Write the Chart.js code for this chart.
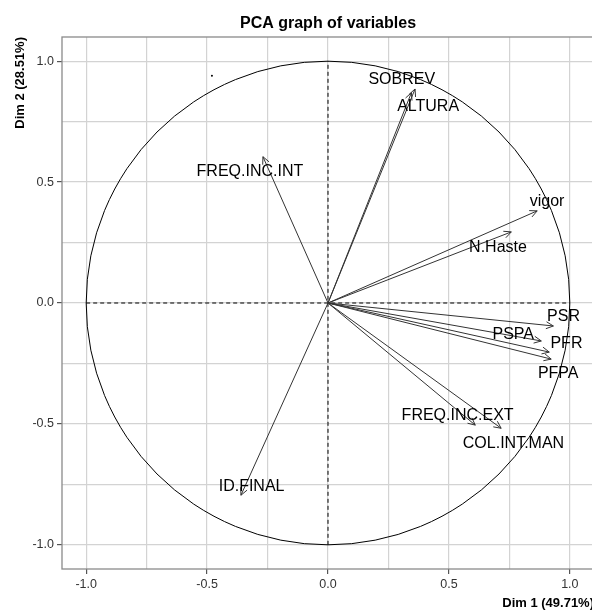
<!DOCTYPE html>
<html>
<head>
<meta charset="utf-8">
<script src="https://cdn.jsdelivr.net/npm/chart.js@4.4.1/dist/chart.umd.min.js"></script>
<style>
  html, body { margin: 0; padding: 0; overflow: hidden; background: #fff; }
  canvas { display: block; }
</style>
</head>
<body>
<canvas id="pca-vars" width="600" height="610"></canvas>
<script>
// variable coordinates on Dim 1 / Dim 2
const variables = ["SOBREV", "ALTURA", "FREQ.INC.INT", "vigor", "N.Haste", "PSR",
  "PSPA", "PFR", "PFPA", "FREQ.INC.EXT", "COL.INT.MAN", "ID.FINAL"];
const dim1 = [0.360, 0.345, -0.269, 0.865, 0.758, 0.932, 0.882, 0.915, 0.923, 0.609, 0.716, -0.360];
const dim2 = [0.885, 0.870, 0.605, 0.381, 0.294, -0.095, -0.157, -0.203, -0.232, -0.505, -0.518, -0.795];
// where the (repelled) labels sit
const labelDim1 = [0.305, 0.414, -0.323, 0.906, 0.703, 0.974, 0.766, 0.986, 0.952, 0.536, 0.767, -0.316];
const labelDim2 = [0.930, 0.816, 0.548, 0.424, 0.234, -0.051, -0.126, -0.161, -0.286, -0.462, -0.576, -0.752];
const strayPoint = [{ x: -0.48, y: 0.94 }];

const majorTicks = [-1, -0.5, 0, 0.5, 1];
const majorTickLabels = ["-1.0", "-0.5", "0.0", "0.5", "1.0"];
const minorTicks = [-0.75, -0.25, 0.25, 0.75];

const allTicks = majorTicks.concat(minorTicks).sort((a, b) => a - b);
const isMajor = v => majorTicks.some(m => Math.abs(m - v) < 1e-9);
const tickText = v => {
  const i = majorTicks.findIndex(m => Math.abs(m - v) < 1e-9);
  return i >= 0 ? majorTickLabels[i] : "";
};

const datasets = variables.map((name, i) => ({
  label: name,
  data: [{ x: 0, y: 0 }, { x: dim1[i], y: dim2[i] }],
  borderColor: "#333",
  borderWidth: 1,
  pointRadius: 0,
  fill: false
}));
datasets.push({
  type: "scatter",
  label: "dot",
  data: strayPoint,
  pointRadius: 1,
  backgroundColor: "#000",
  borderWidth: 0
});

const axisCommon = {
  type: "linear",
  min: -1.1,
  max: 1.1,
  afterBuildTicks: s => { s.ticks = allTicks.map(v => ({ value: v })); },
  border: { display: false },
  grid: {
    color: "#d3d3d3",
    lineWidth: 1.2,
    drawTicks: true,
    tickLength: 5,
    tickColor: c => (c.tick && isMajor(c.tick.value)) ? "#555" : "rgba(0,0,0,0)"
  },
  ticks: {
    autoSkip: false,
    maxRotation: 0,
    padding: 3,
    color: "#333",
    font: { family: "'Liberation Sans', Arial, sans-serif", size: 12.5 },
    callback: v => tickText(v)
  }
};

const decor = {
  id: "decor",
  beforeDatasetsDraw(chart) {
    const { ctx, scales: { x, y } } = chart;
    const cx = x.getPixelForValue(0), cy = y.getPixelForValue(0);
    const rx = x.getPixelForValue(1) - cx, ry = cy - y.getPixelForValue(1);
    ctx.save();
    ctx.strokeStyle = "#000";
    ctx.lineWidth = 1;
    ctx.beginPath();
    ctx.ellipse(cx, cy, rx, ry, 0, 0, Math.PI * 2);
    ctx.stroke();
    ctx.setLineDash([4, 3]);
    ctx.beginPath();
    ctx.moveTo(x.getPixelForValue(-1), cy);
    ctx.lineTo(x.getPixelForValue(1), cy);
    ctx.moveTo(cx, y.getPixelForValue(-1));
    ctx.lineTo(cx, y.getPixelForValue(1));
    ctx.stroke();
    ctx.restore();
  },
  afterDatasetsDraw(chart) {
    const { ctx, scales: { x, y } } = chart;
    ctx.save();
    // arrow heads
    ctx.strokeStyle = "#333";
    ctx.lineWidth = 1;
    variables.forEach((name, i) => {
      const pts = chart.getDatasetMeta(i).data;
      const x0 = pts[0].x, y0 = pts[0].y, x1 = pts[1].x, y1 = pts[1].y;
      const a = Math.atan2(y1 - y0, x1 - x0);
      const len = 8, spread = Math.PI / 7;
      ctx.beginPath();
      ctx.moveTo(x1 - len * Math.cos(a - spread), y1 - len * Math.sin(a - spread));
      ctx.lineTo(x1, y1);
      ctx.lineTo(x1 - len * Math.cos(a + spread), y1 - len * Math.sin(a + spread));
      ctx.stroke();
    });
    // labels, centred on the cap height
    ctx.fillStyle = "#000";
    ctx.font = "16px 'Liberation Sans', Arial, sans-serif";
    ctx.textAlign = "center";
    ctx.textBaseline = "alphabetic";
    variables.forEach((name, i) => {
      ctx.fillText(name, x.getPixelForValue(labelDim1[i]), y.getPixelForValue(labelDim2[i]) + 5.7);
    });
    ctx.restore();
  },
  afterDraw(chart) {
    const { ctx, chartArea: a } = chart;
    ctx.save();
    ctx.strokeStyle = "#8a8a8a";
    ctx.lineWidth = 1.3;
    ctx.strokeRect(a.left, a.top, a.right - a.left, a.bottom - a.top);
    ctx.fillStyle = "#000";
    ctx.font = "bold 16px 'Liberation Sans', Arial, sans-serif";
    ctx.textAlign = "center";
    ctx.textBaseline = "alphabetic";
    ctx.fillText("PCA graph of variables", (a.left + a.right) / 2, 28);
    ctx.font = "bold 13px 'Liberation Sans', Arial, sans-serif";
    ctx.textAlign = "right";
    ctx.fillText("Dim 1 (49.71%)", a.right, 607);
    ctx.translate(24, a.top);
    ctx.rotate(-Math.PI / 2);
    ctx.fillText("Dim 2 (28.51%)", 0, 0);
    ctx.restore();
  }
};

new Chart(document.getElementById("pca-vars").getContext("2d"), {
  type: "line",
  data: { datasets },
  options: {
    responsive: false,
    animation: false,
    devicePixelRatio: 1,
    layout: { padding: { left: 0, top: 37, right: 6, bottom: 0 } },
    plugins: { legend: { display: false }, tooltip: { enabled: false } },
    scales: {
      x: Object.assign({}, axisCommon, {
        position: "bottom",
        afterFit: s => { s.height = 41; s.paddingLeft = 0; s.paddingRight = 0; }
      }),
      y: Object.assign({}, axisCommon, {
        position: "left",
        afterFit: s => { s.width = 62; }
      })
    }
  },
  plugins: [decor]
});
</script>
</body>
</html>
